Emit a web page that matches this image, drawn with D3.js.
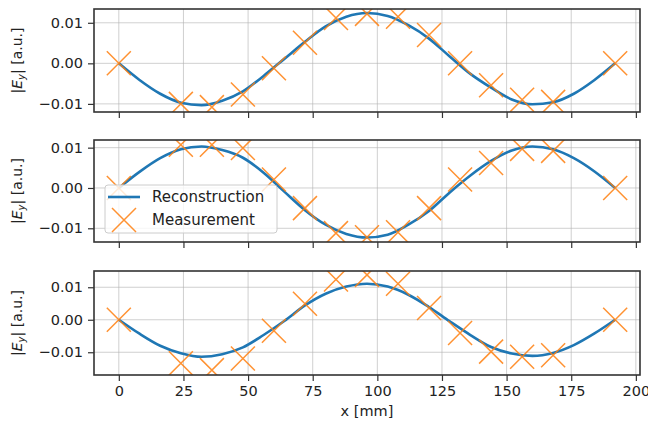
<!DOCTYPE html>
<html><head><meta charset="utf-8">
<script src="https://cdn.jsdelivr.net/npm/d3@7"></script>
<style>body{margin:0;background:#fff}svg{display:block}text{font-family:"DejaVu Sans",sans-serif}</style>
</head><body><svg id="c" width="648" height="423"></svg>
<script>
const measX = [0,24,36,48,60,72,84,96,108,120,132,144,156,168,192];
const meas1 = [0,-0.0100,-0.0108,-0.0077,-0.0012,0.0051,0.0112,0.0122,0.0115,0.0070,0.0000,-0.0054,-0.0090,-0.0095,0];
const meas2 = [0,0.0107,0.0107,0.0099,0.0021,-0.0050,-0.0112,-0.0122,-0.0110,-0.0050,0.0021,0.0062,0.0097,0.0092,0];
const meas3 = [0,-0.0134,-0.0155,-0.0119,-0.0034,0.0049,0.0124,0.0138,0.0111,0.0036,-0.0041,-0.0098,-0.0114,-0.0109,0];
const recX = [0,8,16,24,32,40,48,56,64,72,80,88,96,104,112,120,128,136,144,152,160,168,176,184,192];
const rec1 = [0,-0.0041,-0.0075,-0.0097,-0.0103,-0.0092,-0.0069,-0.0031,0.0011,0.0053,0.0091,0.0115,0.0124,0.0117,0.0094,0.0061,0.0017,-0.0026,-0.0060,-0.0089,-0.0101,-0.0096,-0.0075,-0.0041,0];
const rec2 = [0,0.0040,0.0074,0.0096,0.0103,0.0094,0.0075,0.0038,-0.0009,-0.0055,-0.0091,-0.0114,-0.0123,-0.0116,-0.0091,-0.0057,-0.0011,0.0031,0.0067,0.0093,0.0103,0.0096,0.0074,0.0041,0];
const rec3 = [0,-0.0043,-0.0080,-0.0103,-0.0114,-0.0106,-0.0085,-0.0047,-0.0004,0.0044,0.0080,0.0102,0.0111,0.0102,0.0077,0.0039,-0.0005,-0.0047,-0.0084,-0.0104,-0.0111,-0.0102,-0.0078,-0.0042,0];
const xTicks = [0,25,50,75,100,125,150,175,200];
const yTicks = [-0.01,0,0.01];
const legendLabels = ["Reconstruction","Measurement"];

const svg = d3.select("#c");
const L = 94, R = 640;
const FS = 14.5;
const panels = [
  {top:9, bottom:112, dom:[-0.0120,0.0134], rec:rec1, meas:meas1},
  {top:140, bottom:242, dom:[-0.0134,0.0119], rec:rec2, meas:meas2},
  {top:271, bottom:375, dom:[-0.0170,0.0150], rec:rec3, meas:meas3}
];
const x = d3.scaleLinear().domain([-9.6,201.6]).range([L,R]);
const blue = "#1f77b4", orange = "#ff7f0e";
const fmt = d3.format(".2f");

panels.forEach((p,i) => {
  const y = d3.scaleLinear().domain(p.dom).range([p.bottom,p.top]);
  const g = svg.append("g");
  const cid = "clip"+i;
  svg.append("defs").append("clipPath").attr("id",cid).append("rect")
    .attr("x",L).attr("y",p.top).attr("width",R-L).attr("height",p.bottom-p.top);
  g.selectAll(".gx").data(xTicks).join("line").attr("x1",d=>x(d)).attr("x2",d=>x(d))
    .attr("y1",p.top).attr("y2",p.bottom).attr("stroke","#b0b0b0").attr("stroke-opacity",0.6).attr("stroke-width",1);
  g.selectAll(".gy").data(yTicks).join("line").attr("y1",d=>y(d)).attr("y2",d=>y(d))
    .attr("x1",L).attr("x2",R).attr("stroke","#b0b0b0").attr("stroke-opacity",0.6).attr("stroke-width",1);
  const inner = g.append("g").attr("clip-path",`url(#${cid})`);
  const line = d3.line().x((d,j)=>x(recX[j])).y(d=>y(d)).curve(d3.curveMonotoneX);
  inner.append("path").attr("d",line(p.rec)).attr("fill","none").attr("stroke",blue).attr("stroke-width",2.6);
  const s = 12;
  inner.selectAll(".m").data(p.meas).join("path")
    .attr("d",(d,j)=>{const cx=x(measX[j]), cy=y(d); return `M${cx-s},${cy-s}L${cx+s},${cy+s}M${cx-s},${cy+s}L${cx+s},${cy-s}`;})
    .attr("stroke",orange).attr("stroke-width",1.5).attr("stroke-opacity",0.85).attr("fill","none");
  const ya = d3.axisLeft(y).tickValues(yTicks).tickFormat(d=>fmt(d).replace("-","\u2212")).tickSize(6).tickPadding(5);
  const yg = g.append("g").attr("transform",`translate(${L},0)`).call(ya);
  yg.select(".domain").remove();
  yg.selectAll("text").attr("font-size",FS).attr("fill","#222");
  yg.selectAll("line").attr("stroke","#333").attr("stroke-width",1.2);
  const xa = d3.axisBottom(x).tickValues(xTicks).tickSize(6).tickPadding(5);
  const xg = g.append("g").attr("transform",`translate(0,${p.bottom})`).call(xa);
  xg.select(".domain").remove();
  xg.selectAll("line").attr("stroke","#333").attr("stroke-width",1.2);
  if (i<2) xg.selectAll("text").remove(); else xg.selectAll("text").attr("font-size",FS).attr("fill","#222");
  g.append("rect").attr("x",L).attr("y",p.top).attr("width",R-L).attr("height",p.bottom-p.top)
    .attr("fill","none").attr("stroke","#333").attr("stroke-width",1.6);
  const yl = g.append("text").attr("transform",`translate(22,${(p.top+p.bottom)/2}) rotate(-90)`)
    .attr("text-anchor","middle").attr("font-size",14).attr("fill","#222");
  yl.append("tspan").text("|");
  yl.append("tspan").attr("font-style","italic").text("E");
  yl.append("tspan").attr("font-style","italic").attr("font-size",10).attr("dy",3).text("y");
  yl.append("tspan").attr("dy",-3).text("| [a.u.]");

  if (i===1) {
    const lg = svg.append("g");
    lg.append("rect").attr("x",105).attr("y",185).attr("width",172).attr("height",48).attr("rx",3)
      .attr("fill","#fff").attr("fill-opacity",0.8).attr("stroke","#ccc").attr("stroke-width",1);
    lg.append("line").attr("x1",108).attr("x2",140).attr("y1",197).attr("y2",197).attr("stroke",blue).attr("stroke-width",2.6);
    const cx=124, cy=220;
    lg.append("path").attr("d",`M${cx-s},${cy-s}L${cx+s},${cy+s}M${cx-s},${cy+s}L${cx+s},${cy-s}`)
      .attr("stroke",orange).attr("stroke-width",1.5).attr("stroke-opacity",0.85);
    lg.selectAll(".lt").data(legendLabels).join("text").attr("x",152).attr("y",(d,j)=>[197,220][j]).attr("dy","0.35em")
      .attr("font-size",15).attr("fill","#222").text(d=>d);
  }
});
svg.append("text").attr("x",(L+R)/2).attr("y",416).attr("text-anchor","middle").attr("font-size",FS).attr("fill","#222").text("x [mm]");
</script></body></html>
